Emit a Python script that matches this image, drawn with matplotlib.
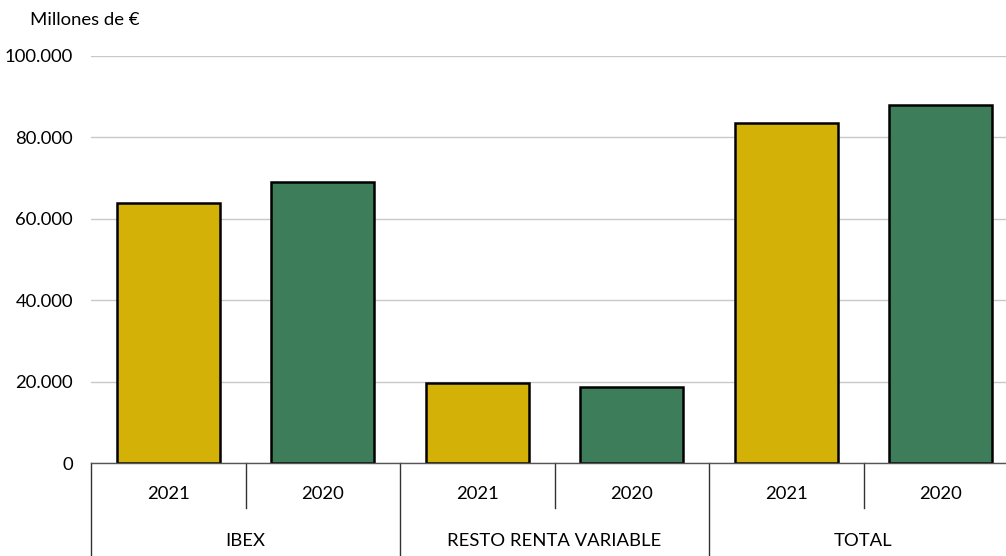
import matplotlib
matplotlib.use("Agg")
import matplotlib.pyplot as plt

groups = ["IBEX", "RESTO RENTA VARIABLE", "TOTAL"]
years = ["2021", "2020"]
values_2021 = [63900, 19700, 83500]
values_2020 = [69000, 18750, 87900]
y_ticks = [0, 20000, 40000, 60000, 80000, 100000]
y_tick_labels = ["0", "20.000", "40.000", "60.000", "80.000", "100.000"]
unit_label = "Millones de €"

col_2021 = "#D3B106"
col_2020 = "#3E7D5A"

plt.rcParams['font.family'] = ['Lato', 'DejaVu Sans']
FS = 13.3

fig = plt.figure(figsize=(10.06, 5.56), dpi=100)
ax = fig.add_axes([91/1006, 1-463/556, 927/1006, 407/556])

xs, vals, cols, labs = [], [], [], []
for g in range(len(groups)):
    for j, (yr, v, c) in enumerate(zip(years, [values_2021[g], values_2020[g]], [col_2021, col_2020])):
        xs.append(g*2 + j)
        vals.append(v)
        cols.append(c)
        labs.append(yr)

ax.bar(xs, vals, width=0.667, color=cols, edgecolor="black", linewidth=1.8, zorder=3)
ax.set_xlim(-0.5, len(xs) - 0.5)
ax.set_ylim(0, 100000)
ax.set_yticks(y_ticks)
ax.set_yticklabels(y_tick_labels, fontsize=FS)
ax.tick_params(axis='y', length=0, pad=13)
ax.set_xticks([])
ax.grid(axis='y', color="#C8C8C8", linewidth=1.0, zorder=0)
for s in ["top", "right", "left"]:
    ax.spines[s].set_visible(False)
ax.spines["bottom"].set_color("#555555")
ax.spines["bottom"].set_linewidth(1.0)
ax.spines["bottom"].set_zorder(4)

trans = ax.get_xaxis_transform()
ppy = 407.0  # pixels per axes unit in y
def ay(px):
    return -(px - 463) / ppy

for i, (x, lab) in enumerate(zip(xs, labs)):
    ax.text(x, ay(494), lab, transform=trans, ha="center", va="center", fontsize=FS)
for g, name in enumerate(groups):
    ax.text(g*2 + 0.5, ay(541), name, transform=trans, ha="center", va="center", fontsize=FS)
    ax.plot([g*2 - 0.5, g*2 - 0.5], [0, ay(556)], transform=trans, color="#333333",
            linewidth=1.0, clip_on=False)
    ax.plot([g*2 + 0.5, g*2 + 0.5], [0, ay(508)], transform=trans, color="#333333",
            linewidth=1.0, clip_on=False)
ax.plot([len(xs) - 0.5]*2, [0, ay(556)], transform=trans, color="#333333",
        linewidth=1.0, clip_on=False)

fig.text(30/1006, 1-20/556, unit_label, ha="left", va="center", fontsize=FS)

fig.savefig("out.png", dpi=100)
